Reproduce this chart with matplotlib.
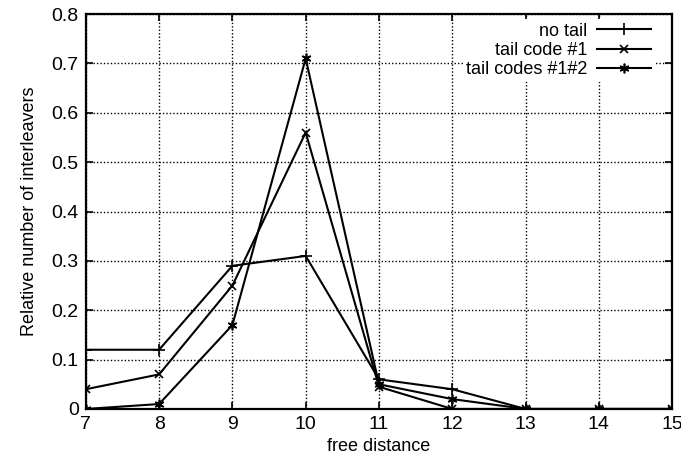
import matplotlib
matplotlib.use("Agg")
import matplotlib.pyplot as plt

# --- Data ---
free_distance = [7, 8, 9, 10, 11, 12, 13, 14, 15]
no_tail = [0.12, 0.12, 0.29, 0.31, 0.06, 0.04, 0.0, 0.0, 0.0]
tail_code_1 = [0.04, 0.07, 0.25, 0.56, 0.045, 0.0, 0.0, 0.0, 0.0]
tail_codes_12 = [0.0, 0.01, 0.17, 0.71, 0.05, 0.02, 0.0, 0.0, 0.0]

x_ticks = [7, 8, 9, 10, 11, 12, 13, 14, 15]
y_ticks = [0, 0.1, 0.2, 0.3, 0.4, 0.5, 0.6, 0.7, 0.8]
y_tick_labels = ["0", "0.1", "0.2", "0.3", "0.4", "0.5", "0.6", "0.7", "0.8"]

plt.rcParams["font.family"] = ["Liberation Sans", "DejaVu Sans"]
plt.rcParams["font.size"] = 13

fig = plt.figure(figsize=(6.81, 4.69), dpi=100)
ax = fig.add_axes([0.126, 0.128, 0.861, 0.842])

ax.plot(free_distance, no_tail, color="black", lw=1.5, marker="+", ms=8, mew=1.2,
        label="no tail")
ax.plot(free_distance, tail_code_1, color="black", lw=1.5, marker="x", ms=6, mew=1.2,
        label="tail code #1")
ax.plot(free_distance, tail_codes_12, color="black", lw=1.5, marker=(6, 2, 0), ms=7,
        mew=1.2, label="tail codes #1#2")

ax.set_xlim(7, 15)
ax.set_ylim(0, 0.8)
ax.set_xticks(x_ticks)
ax.set_yticks(y_ticks)
ax.set_yticklabels(y_tick_labels)
ax.grid(True, color="black", linestyle=(0, (1, 1.5)), linewidth=1.0)
ax.tick_params(direction="in", length=5, width=1.2, top=True, right=True, pad=5,
               labelsize=14)
for side in ax.spines.values():
    side.set_linewidth(1.6)

ax.set_xlabel("free distance", labelpad=4)
ax.set_ylabel("Relative number of interleavers", labelpad=10)

leg = ax.legend(loc="upper right", markerfirst=False, frameon=True, fancybox=False,
                edgecolor="none", framealpha=1.0, handlelength=3.0, borderpad=0.2,
                labelspacing=0.12, handletextpad=0.5, bbox_to_anchor=(0.985, 1.01))
for t in leg.get_texts():
    t.set_ha("right")
leg._legend_box.align = "right"

fig.savefig("out.png", dpi=100)
